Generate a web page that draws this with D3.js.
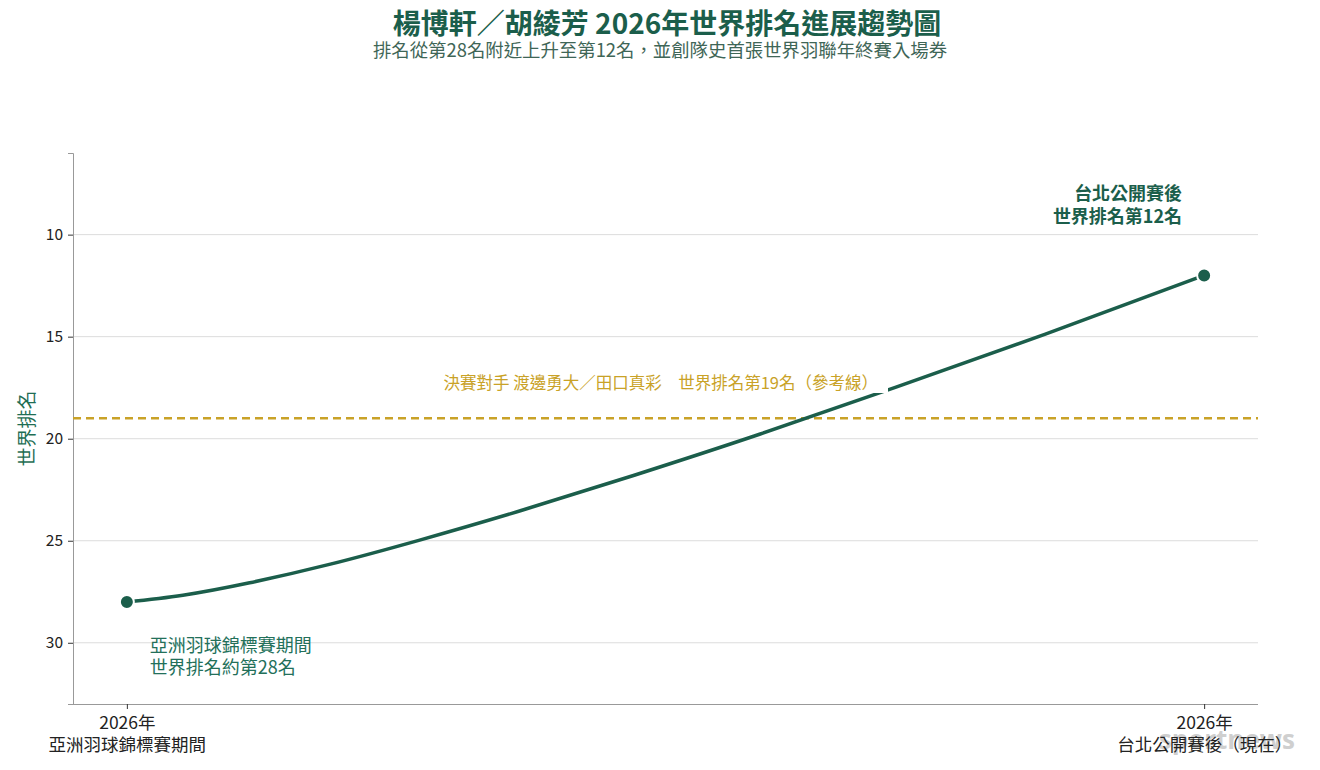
<!DOCTYPE html>
<html>
<head>
<meta charset="utf-8">
<script src="https://cdn.jsdelivr.net/npm/d3@7"></script>
<style>
  html, body { margin: 0; padding: 0; background: #fff; }
  svg { display: block; font-family: "Noto Sans CJK TC", "Noto Sans", sans-serif; }
</style>
</head>
<body>
<svg id="chart" width="1320" height="770"></svg>
<script>
// ---------------- data ----------------
const stageYears = ["2026年", "2026年"];
const stageNames = ["亞洲羽球錦標賽期間", "台北公開賽後（現在）"];
const ranks = [28, 12];
const yTicks = [10, 15, 20, 25, 30];
const referenceRank = 19;
const referenceLabel = "決賽對手 渡邊勇大／田口真彩　世界排名第19名（參考線）";
// trend curve (position between the two stages 0..1, rank)
const curvePos   = [0, 0.052, 0.114, 0.188, 0.271, 0.366, 0.471, 0.588, 0.714, 0.852, 1];
const curveRanks = [28, 27.67, 27.06, 26.16, 24.98, 23.52, 21.79, 19.77, 17.47, 14.89, 12];
const titleText = "楊博軒／胡綾芳 2026年世界排名進展趨勢圖";
const subtitleText = "排名從第28名附近上升至第12名，並創隊史首張世界羽聯年終賽入場券";
const startNote = ["亞洲羽球錦標賽期間", "世界排名約第28名"];
const endNote = ["台北公開賽後", "世界排名第12名"];
const yLabel = "世界排名";

// ---------------- layout ----------------
const W = 1320, H = 770;
const M = { left: 73, right: 62, top: 153, bottom: 66 };
const green = "#1b5e4b";
const gold = "#c9a227";

const svg = d3.select("#chart");

const x = d3.scalePoint()
  .domain(d3.range(stageNames.length))
  .range([M.left, W - M.right])
  .padding(0.05);
const xT = d3.scaleLinear().domain([0, 1]).range([x(0), x(1)]);
const y = d3.scaleLinear().domain([6, 33]).range([M.top, H - M.bottom]);

// title
svg.append("text").attr("x", 667).attr("y", 34).attr("text-anchor", "middle")
  .attr("font-size", 28).attr("font-weight", 700).attr("fill", green).text(titleText);
svg.append("text").attr("x", 660).attr("y", 57).attr("text-anchor", "middle")
  .attr("font-size", 18.4).attr("fill", "#3f6657").text(subtitleText);

// grid
svg.append("g").selectAll("line").data(yTicks).join("line")
  .attr("x1", M.left).attr("x2", W - M.right)
  .attr("y1", d => y(d)).attr("y2", d => y(d))
  .attr("stroke", "#dcdcdc").attr("stroke-width", 1);

// axes
const yAxis = svg.append("g").attr("transform", `translate(${M.left},0)`)
  .call(d3.axisLeft(y).tickValues(yTicks).tickSize(5).tickPadding(5));
yAxis.select(".domain").attr("stroke", "#999");
yAxis.selectAll(".tick line").attr("stroke", "#333");
yAxis.selectAll(".tick text").attr("font-size", 15.5).attr("fill", "#222")
  .attr("font-family", "'Noto Sans CJK TC', sans-serif");

// watermark
svg.append("text").attr("x", 1295).attr("y", 749).attr("text-anchor", "end")
  .attr("font-size", 26).attr("font-weight", 700).attr("fill", "#cfcfcf")
  .attr("font-family", "'Open Sans', sans-serif").text("sportnews");

const xAxis = svg.append("g").attr("transform", `translate(0,${H - M.bottom})`)
  .call(d3.axisBottom(x).tickSize(5).tickFormat(() => ""));
xAxis.select(".domain").attr("stroke", "#999").attr("d", `M${M.left},0.5H${W - M.right}`);
xAxis.selectAll(".tick line").attr("stroke", "#333");
xAxis.selectAll(".tick").each(function (d) {
  const t = d3.select(this).select("text").attr("font-size", 17.5).attr("fill", "#222")
    .attr("font-family", "'Noto Sans CJK TC', sans-serif").attr("y", 0).attr("dy", null);
  t.append("tspan").attr("x", 0).attr("y", 25).text(stageYears[d]);
  t.append("tspan").attr("x", 0).attr("y", 47).text(stageNames[d]);
});

// y label
svg.append("text").attr("transform", `translate(34,${(M.top + H - M.bottom) / 2}) rotate(-90)`)
  .attr("text-anchor", "middle").attr("font-size", 19).attr("fill", "#1f6e54").text(yLabel);

// reference line
svg.append("line").attr("x1", M.left).attr("x2", W - M.right)
  .attr("y1", y(referenceRank)).attr("y2", y(referenceRank))
  .attr("stroke", gold).attr("stroke-width", 2.5).attr("stroke-dasharray", "8,5");

// trend line
const line = d3.line().x((d, i) => xT(curvePos[i])).y(d => y(d)).curve(d3.curveNatural);
svg.append("path").datum(curveRanks).attr("d", line)
  .attr("fill", "none").attr("stroke", green).attr("stroke-width", 3.5).attr("stroke-linecap", "round");

// reference label with white background
const refG = svg.append("g");
const refText = refG.append("text").attr("x", 878).attr("y", 389).attr("text-anchor", "end")
  .attr("font-size", 16.5).attr("fill", gold).text(referenceLabel);
const bb = refText.node().getBBox();
refG.insert("rect", "text").attr("x", bb.x - 8).attr("y", bb.y - 3)
  .attr("width", bb.width + 18).attr("height", bb.height + 2).attr("fill", "#fff");

// points
svg.append("g").selectAll("circle").data(ranks).join("circle")
  .attr("cx", (d, i) => x(i)).attr("cy", d => y(d)).attr("r", 7)
  .attr("fill", green).attr("stroke", "#fff").attr("stroke-width", 2);

// annotations
const sNote = svg.append("text").attr("font-size", 18).attr("fill", "#23705a");
startNote.forEach((s, i) => sNote.append("tspan").attr("x", x(0) + 23).attr("y", y(ranks[0]) + 50 + i * 22).text(s));
const eNote = svg.append("text").attr("font-size", 18).attr("font-weight", 700).attr("fill", green).attr("text-anchor", "end");
endNote.forEach((s, i) => eNote.append("tspan").attr("x", x(1) - 22).attr("y", y(ranks[1]) - 75 + i * 23).text(s));
</script>
</body>
</html>
